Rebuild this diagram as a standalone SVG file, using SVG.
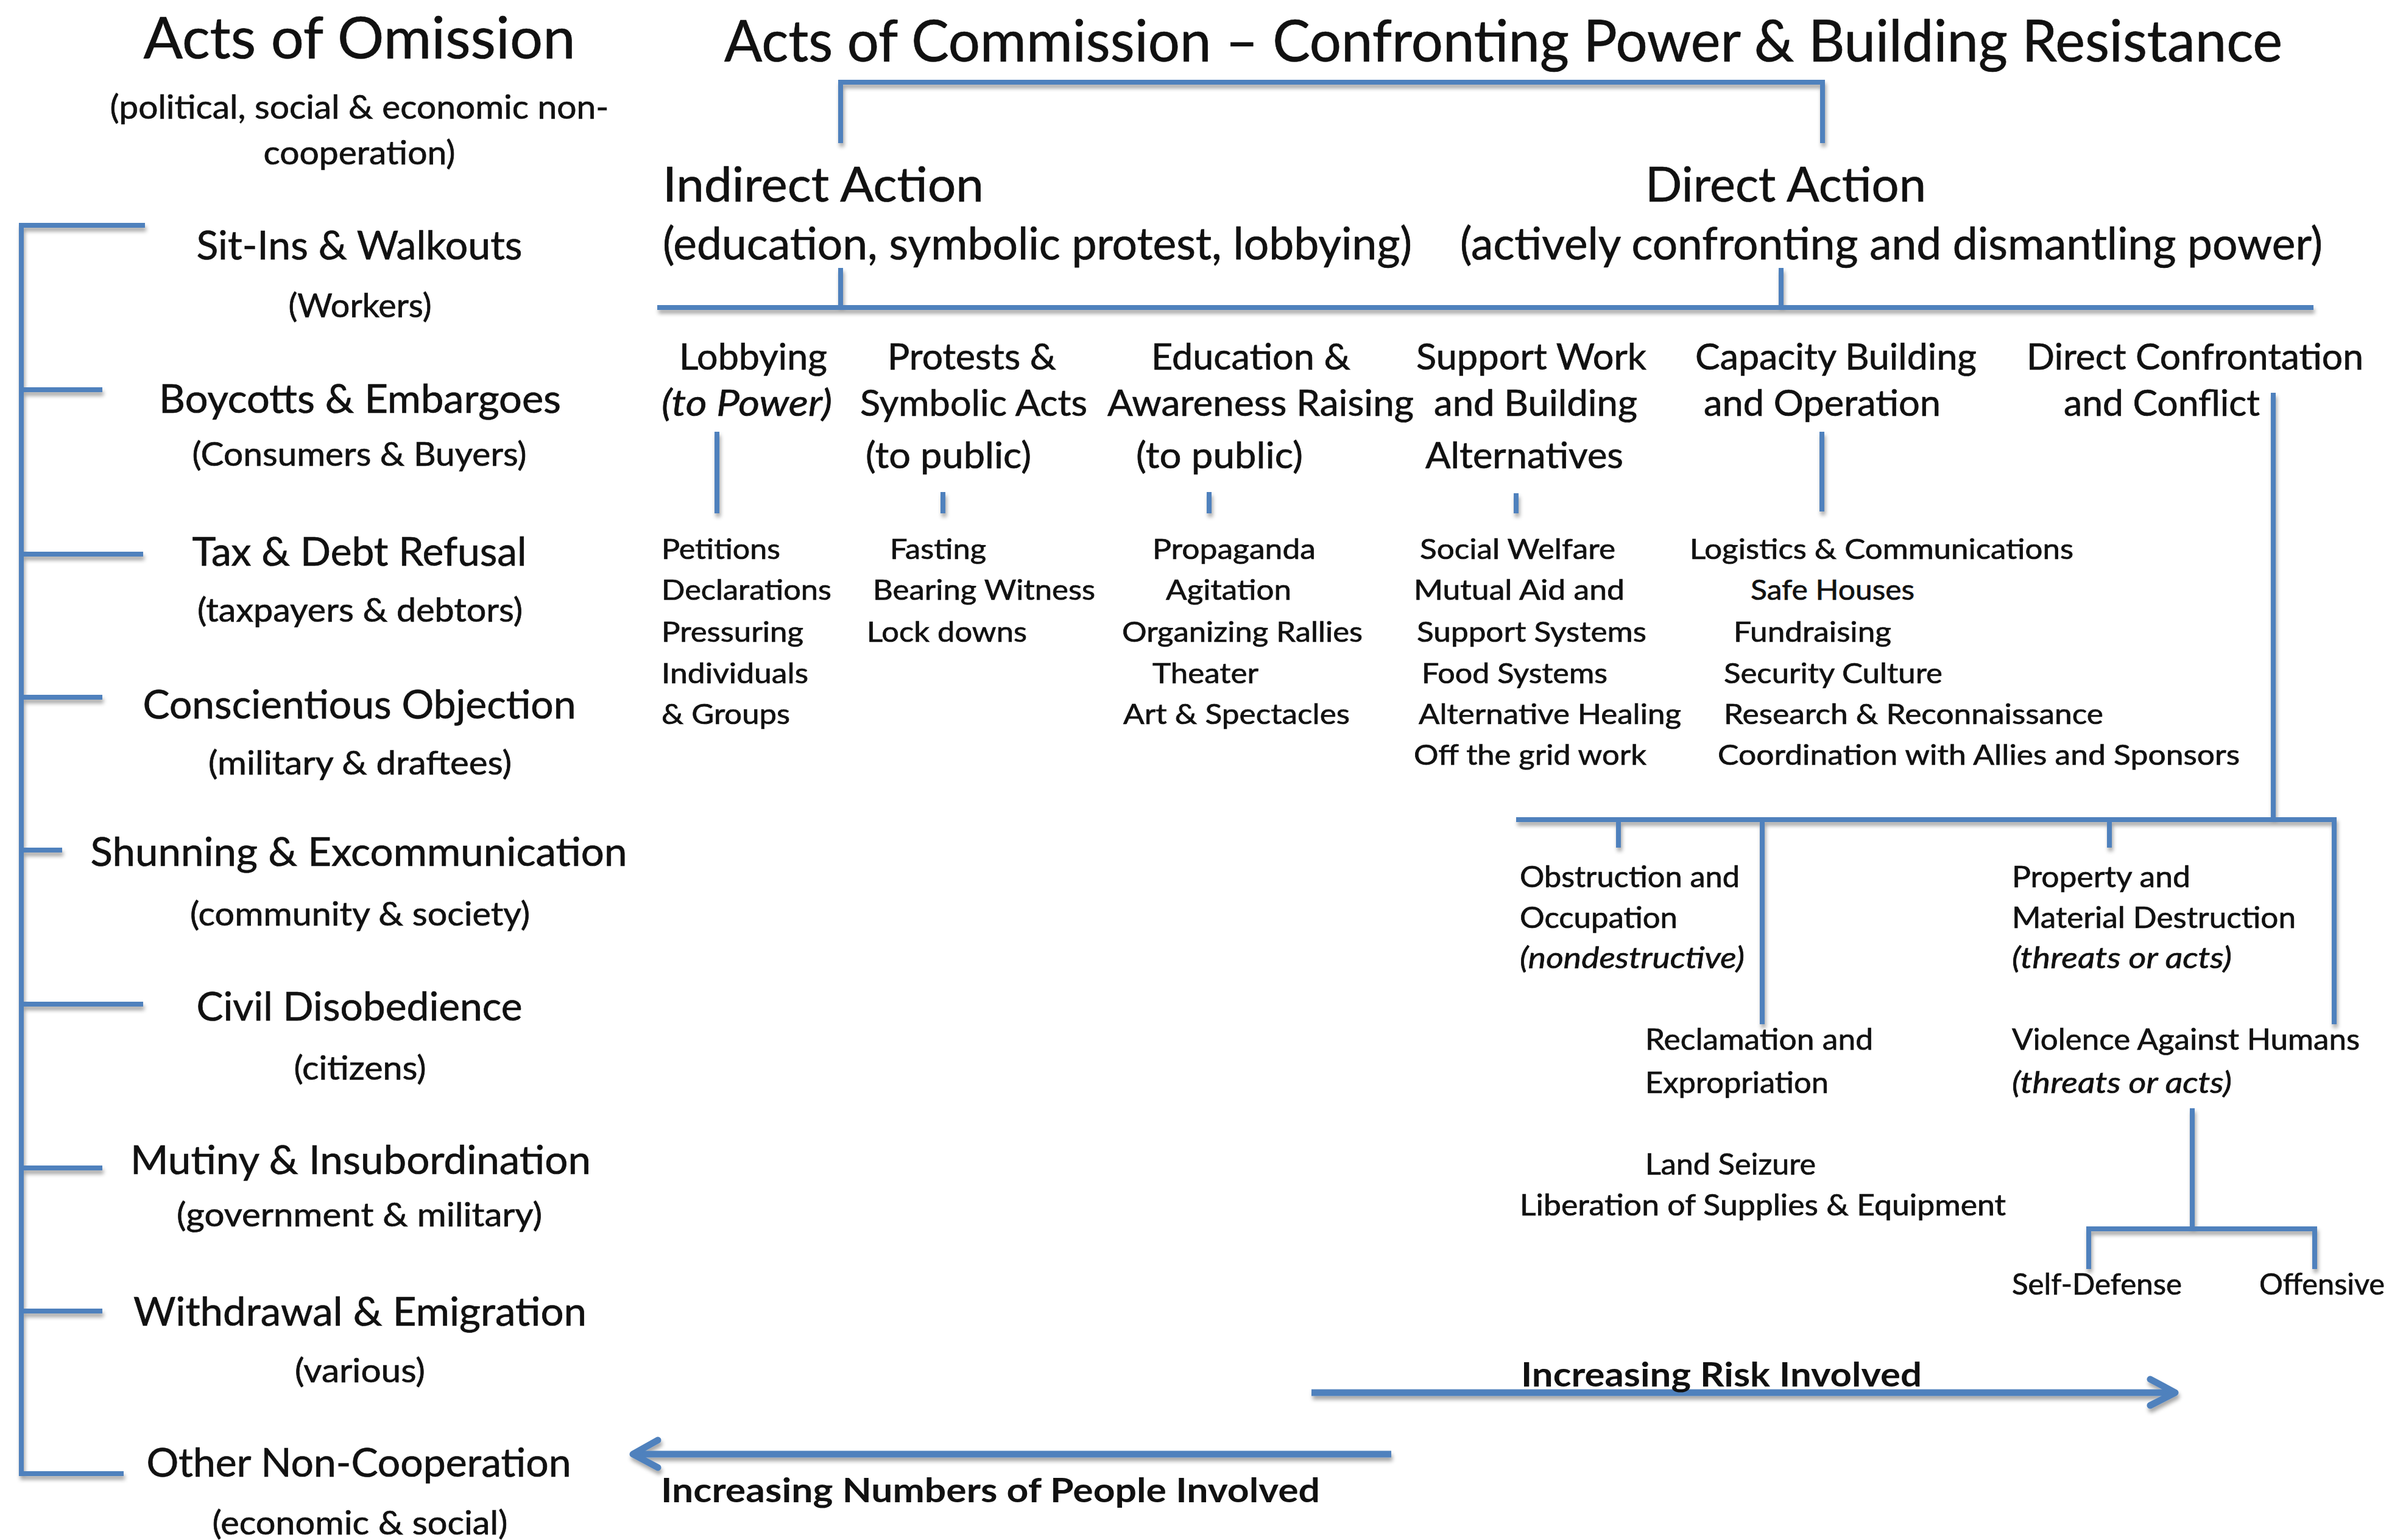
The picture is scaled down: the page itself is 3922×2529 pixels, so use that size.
<svg xmlns="http://www.w3.org/2000/svg" width="3922" height="2529" viewBox="0 0 3922 2529">
<defs>
<filter id="sh" x="-5%" y="-5%" width="110%" height="110%">
<feDropShadow dx="2" dy="6" stdDeviation="3" flood-color="#000" flood-opacity="0.35"/>
</filter>
<style>
.t{font-family:Lato,"Liberation Sans",sans-serif;fill:#111;stroke:#111;stroke-width:0.7}
.m{text-anchor:middle}
.ttl{font-size:95px}
.main{font-size:65px}
.sub{font-size:55px}
.hd{font-size:80px}
.hd2{font-size:73px}
.cat{font-size:60px}
.det{font-size:46px}
.br{font-size:48px}
.it{font-style:italic}
.arr{font-size:56px;font-weight:bold;stroke-width:0}
.ln{fill:none;stroke:#4f81bd;stroke-width:8;stroke-linejoin:miter}
.ah{fill:none;stroke:#4f81bd;stroke-width:11;stroke-linecap:round;stroke-linejoin:round}
</style>
</defs>
<rect width="3922" height="2529" fill="#fff"/>

<g id="connectors" filter="url(#sh)">
<path class="ln" d="M238,370 H35 V2420 H203"/>
<path class="ln" d="M35,640 H168 M35,910 H235 M35,1145 H168 M35,1396 H102 M35,1649 H235 M35,1918 H168 M35,2153 H168"/>
<path class="ln" d="M1380,235 V135 H2992 V235"/>
<path class="ln" d="M1380,440 V505 M2924,440 V505 M1079,505 H3798"/>
<path class="ln" d="M1177,709 V843 M1548,808 V843 M1985,808 V843 M2489,810 V843 M2991,709 V840"/>
<path class="ln" d="M3732,645 V1346 M2489,1346 H3832 V1682 M2657,1346 V1392 M2893,1346 V1682 M3463,1346 V1392"/>
<path class="ln" d="M3599,1820 V2018 M3429,2084 V2018 H3800 V2084"/>
<path class="ln" d="M2153,2287 H3566" style="stroke-width:11"/>
<path class="ah" d="M3530,2265 L3571,2287 L3530,2308"/>
<path class="ln" d="M2284,2388 H1042" style="stroke-width:11"/>
<path class="ah" d="M1080,2365 L1039,2388 L1080,2410"/>
</g>

<g id="omission-title">
<text class="t ttl m" x="590" y="96" textLength="709" lengthAdjust="spacingAndGlyphs">Acts of Omission</text>
<text class="t sub m" x="590" y="195" textLength="819" lengthAdjust="spacingAndGlyphs">(political, social &amp; economic non-</text>
<text class="t sub m" x="590" y="270" textLength="315" lengthAdjust="spacingAndGlyphs">cooperation)</text>
</g>
<g id="sit-ins">
<text class="t main m" x="590" y="426" textLength="535" lengthAdjust="spacingAndGlyphs">Sit-Ins &amp; Walkouts</text>
<text class="t sub m" x="591" y="521" textLength="235" lengthAdjust="spacingAndGlyphs">(Workers)</text>
</g>
<g id="boycotts">
<text class="t main m" x="591" y="678" textLength="660" lengthAdjust="spacingAndGlyphs">Boycotts &amp; Embargoes</text>
<text class="t sub m" x="590" y="765" textLength="549" lengthAdjust="spacingAndGlyphs">(Consumers &amp; Buyers)</text>
</g>
<g id="tax">
<text class="t main m" x="590" y="929" textLength="549" lengthAdjust="spacingAndGlyphs">Tax &amp; Debt Refusal</text>
<text class="t sub m" x="591" y="1021" textLength="534" lengthAdjust="spacingAndGlyphs">(taxpayers &amp; debtors)</text>
</g>
<g id="conscientious">
<text class="t main m" x="590" y="1180" textLength="711" lengthAdjust="spacingAndGlyphs">Conscientious Objection</text>
<text class="t sub m" x="591" y="1272" textLength="498" lengthAdjust="spacingAndGlyphs">(military &amp; draftees)</text>
</g>
<g id="shunning">
<text class="t main m" x="589" y="1422" textLength="881" lengthAdjust="spacingAndGlyphs">Shunning &amp; Excommunication</text>
<text class="t sub m" x="591" y="1520" textLength="558" lengthAdjust="spacingAndGlyphs">(community &amp; society)</text>
</g>
<g id="civil">
<text class="t main m" x="590" y="1676" textLength="535" lengthAdjust="spacingAndGlyphs">Civil Disobedience</text>
<text class="t sub m" x="591" y="1773" textLength="217" lengthAdjust="spacingAndGlyphs">(citizens)</text>
</g>
<g id="mutiny">
<text class="t main m" x="592" y="1928" textLength="756" lengthAdjust="spacingAndGlyphs">Mutiny &amp; Insubordination</text>
<text class="t sub m" x="590" y="2014" textLength="600" lengthAdjust="spacingAndGlyphs">(government &amp; military)</text>
</g>
<g id="withdrawal">
<text class="t main m" x="591" y="2177" textLength="744" lengthAdjust="spacingAndGlyphs">Withdrawal &amp; Emigration</text>
<text class="t sub m" x="591" y="2270" textLength="214" lengthAdjust="spacingAndGlyphs">(various)</text>
</g>
<g id="other">
<text class="t main m" x="589" y="2425" textLength="697" lengthAdjust="spacingAndGlyphs">Other Non-Cooperation</text>
<text class="t sub m" x="591" y="2520" textLength="485" lengthAdjust="spacingAndGlyphs">(economic &amp; social)</text>
</g>

<g id="commission-title">
<text class="t ttl" x="1189" y="101" textLength="2558" lengthAdjust="spacingAndGlyphs">Acts of Commission – Confronting Power &amp; Building Resistance</text>
</g>
<g id="indirect">
<text class="t hd" x="1088" y="331" textLength="527" lengthAdjust="spacingAndGlyphs">Indirect Action</text>
<text class="t hd2" x="1088" y="426" textLength="1230" lengthAdjust="spacingAndGlyphs">(education, symbolic protest, lobbying)</text>
</g>
<g id="direct">
<text class="t hd" x="2701" y="331" textLength="461" lengthAdjust="spacingAndGlyphs">Direct Action</text>
<text class="t hd2" x="2397" y="426" textLength="1416" lengthAdjust="spacingAndGlyphs">(actively confronting and dismantling power)</text>
</g>

<g id="lobbying">
<text class="t cat" x="1115" y="607" textLength="243" lengthAdjust="spacingAndGlyphs">Lobbying</text>
<text class="t cat it" x="1086" y="683" textLength="280" lengthAdjust="spacingAndGlyphs">(to Power)</text>
<text class="t det" x="1086" y="918" textLength="195" lengthAdjust="spacingAndGlyphs">Petitions</text>
<text class="t det" x="1086" y="985" textLength="279" lengthAdjust="spacingAndGlyphs">Declarations</text>
<text class="t det" x="1086" y="1054" textLength="233" lengthAdjust="spacingAndGlyphs">Pressuring</text>
<text class="t det" x="1086" y="1122" textLength="241" lengthAdjust="spacingAndGlyphs">Individuals</text>
<text class="t det" x="1086" y="1189" textLength="211" lengthAdjust="spacingAndGlyphs">&amp; Groups</text>
</g>
<g id="protests">
<text class="t cat" x="1457" y="607" textLength="277" lengthAdjust="spacingAndGlyphs">Protests &amp;</text>
<text class="t cat" x="1412" y="683" textLength="373" lengthAdjust="spacingAndGlyphs">Symbolic Acts</text>
<text class="t cat" x="1421" y="769" textLength="272" lengthAdjust="spacingAndGlyphs">(to public)</text>
<text class="t det" x="1461" y="918" textLength="158" lengthAdjust="spacingAndGlyphs">Fasting</text>
<text class="t det" x="1433" y="985" textLength="365" lengthAdjust="spacingAndGlyphs">Bearing Witness</text>
<text class="t det" x="1423" y="1054" textLength="263" lengthAdjust="spacingAndGlyphs">Lock downs</text>
</g>
<g id="education">
<text class="t cat" x="1890" y="607" textLength="327" lengthAdjust="spacingAndGlyphs">Education &amp;</text>
<text class="t cat" x="1818" y="683" textLength="503" lengthAdjust="spacingAndGlyphs">Awareness Raising</text>
<text class="t cat" x="1865" y="769" textLength="274" lengthAdjust="spacingAndGlyphs">(to public)</text>
<text class="t det" x="1892" y="918" textLength="268" lengthAdjust="spacingAndGlyphs">Propaganda</text>
<text class="t det" x="1914" y="985" textLength="206" lengthAdjust="spacingAndGlyphs">Agitation</text>
<text class="t det" x="1842" y="1054" textLength="395" lengthAdjust="spacingAndGlyphs">Organizing Rallies</text>
<text class="t det" x="1892" y="1122" textLength="174" lengthAdjust="spacingAndGlyphs">Theater</text>
<text class="t det" x="1844" y="1189" textLength="372" lengthAdjust="spacingAndGlyphs">Art &amp; Spectacles</text>
</g>
<g id="support">
<text class="t cat" x="2325" y="607" textLength="378" lengthAdjust="spacingAndGlyphs">Support Work</text>
<text class="t cat" x="2354" y="683" textLength="334" lengthAdjust="spacingAndGlyphs">and Building</text>
<text class="t cat" x="2340" y="769" textLength="325" lengthAdjust="spacingAndGlyphs">Alternatives</text>
<text class="t det" x="2331" y="918" textLength="321" lengthAdjust="spacingAndGlyphs">Social Welfare</text>
<text class="t det" x="2321" y="985" textLength="346" lengthAdjust="spacingAndGlyphs">Mutual Aid and</text>
<text class="t det" x="2326" y="1054" textLength="377" lengthAdjust="spacingAndGlyphs">Support Systems</text>
<text class="t det" x="2334" y="1122" textLength="305" lengthAdjust="spacingAndGlyphs">Food Systems</text>
<text class="t det" x="2329" y="1189" textLength="431" lengthAdjust="spacingAndGlyphs">Alternative Healing</text>
<text class="t det" x="2321" y="1256" textLength="382" lengthAdjust="spacingAndGlyphs">Off the grid work</text>
</g>
<g id="capacity">
<text class="t cat" x="2783" y="607" textLength="462" lengthAdjust="spacingAndGlyphs">Capacity Building</text>
<text class="t cat" x="2797" y="683" textLength="389" lengthAdjust="spacingAndGlyphs">and Operation</text>
<text class="t det" x="2774" y="918" textLength="630" lengthAdjust="spacingAndGlyphs">Logistics &amp; Communications</text>
<text class="t det" x="2874" y="985" textLength="269" lengthAdjust="spacingAndGlyphs">Safe Houses</text>
<text class="t det" x="2846" y="1054" textLength="259" lengthAdjust="spacingAndGlyphs">Fundraising</text>
<text class="t det" x="2830" y="1122" textLength="359" lengthAdjust="spacingAndGlyphs">Security Culture</text>
<text class="t det" x="2830" y="1189" textLength="623" lengthAdjust="spacingAndGlyphs">Research &amp; Reconnaissance</text>
<text class="t det" x="2820" y="1256" textLength="857" lengthAdjust="spacingAndGlyphs">Coordination with Allies and Sponsors</text>
</g>
<g id="confrontation">
<text class="t cat" x="3327" y="607" textLength="553" lengthAdjust="spacingAndGlyphs">Direct Confrontation</text>
<text class="t cat" x="3388" y="683" textLength="322" lengthAdjust="spacingAndGlyphs">and Conflict</text>
</g>
<g id="obstruction">
<text class="t br" x="2495" y="1457" textLength="361" lengthAdjust="spacingAndGlyphs">Obstruction and</text>
<text class="t br" x="2495" y="1524" textLength="259" lengthAdjust="spacingAndGlyphs">Occupation</text>
<text class="t br it" x="2495" y="1590" textLength="369" lengthAdjust="spacingAndGlyphs">(nondestructive)</text>
</g>
<g id="property">
<text class="t br" x="3303" y="1457" textLength="293" lengthAdjust="spacingAndGlyphs">Property and</text>
<text class="t br" x="3303" y="1524" textLength="466" lengthAdjust="spacingAndGlyphs">Material Destruction</text>
<text class="t br it" x="3303" y="1590" textLength="361" lengthAdjust="spacingAndGlyphs">(threats or acts)</text>
</g>
<g id="reclamation">
<text class="t br" x="2701" y="1724" textLength="374" lengthAdjust="spacingAndGlyphs">Reclamation and</text>
<text class="t br" x="2701" y="1795" textLength="301" lengthAdjust="spacingAndGlyphs">Expropriation</text>
<text class="t br" x="2701" y="1929" textLength="280" lengthAdjust="spacingAndGlyphs">Land Seizure</text>
<text class="t br" x="2495" y="1996" textLength="798" lengthAdjust="spacingAndGlyphs">Liberation of Supplies &amp; Equipment</text>
</g>
<g id="violence">
<text class="t br" x="3303" y="1724" textLength="571" lengthAdjust="spacingAndGlyphs">Violence Against Humans</text>
<text class="t br it" x="3303" y="1795" textLength="361" lengthAdjust="spacingAndGlyphs">(threats or acts)</text>
</g>
<g id="self-defense">
<text class="t br" x="3303" y="2126" textLength="279" lengthAdjust="spacingAndGlyphs">Self-Defense</text>
</g>
<g id="offensive">
<text class="t br" x="3709" y="2126" textLength="206" lengthAdjust="spacingAndGlyphs">Offensive</text>
</g>
<g id="risk-label">
<text class="t arr" x="2497" y="2277" textLength="658" lengthAdjust="spacingAndGlyphs">Increasing Risk Involved</text>
</g>
<g id="numbers-label">
<text class="t arr" x="1085" y="2467" textLength="1082" lengthAdjust="spacingAndGlyphs">Increasing Numbers of People Involved</text>
</g>
</svg>
